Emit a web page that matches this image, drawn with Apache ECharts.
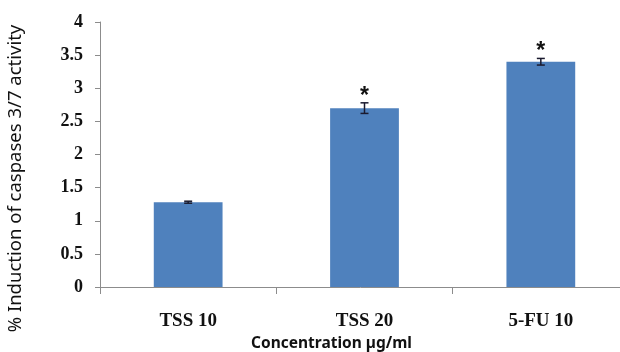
<!DOCTYPE html>
<html>
<head>
<meta charset="utf-8">
<script src="https://cdn.jsdelivr.net/npm/echarts@6/dist/echarts.min.js"></script>
<style>html,body{margin:0;padding:0;background:#fff}#c{width:620px;height:352px}</style>
</head>
<body>
<div id="c"></div>
<script>
var categories = ['TSS 10', 'TSS 20', '5-FU 10'];
var values = [1.28, 2.70, 3.40];
var errors = [0.015, 0.08, 0.05];
var marks = ['', '*', '*'];
var yTicks = [0, 0.5, 1, 1.5, 2, 2.5, 3, 3.5, 4];

var chart = echarts.init(document.getElementById('c'));
var errData = values.map(function (v, i) { return [i, v - errors[i], v + errors[i], marks[i]]; });

chart.setOption({
  animation: false,
  grid: { left: 100, top: 22, width: 529, bottom: 65, containLabel: false, outerBoundsMode: 'none' },
  xAxis: {
    type: 'category',
    data: categories,
    boundaryGap: true,
    name: 'Concentration \u00b5g/ml',
    nameLocation: 'middle',
    nameGap: 49,
    nameTextStyle: { fontFamily: 'Noto Sans', fontSize: 15.5, fontWeight: 'bold', color: '#111', padding: [0, 66, 0, 0] },
    axisLine: { lineStyle: { color: '#8c8c8c', width: 1 } },
    axisTick: { show: true, length: 7, alignWithLabel: false, lineStyle: { color: '#8c8c8c' } },
    axisLabel: { fontFamily: 'Liberation Serif', fontWeight: 'bold', fontSize: 19, color: '#111', margin: 25 }
  },
  yAxis: {
    type: 'value',
    min: 0, max: 4, interval: 0.5,
    name: '% Induction of caspases 3/7 activity',
    nameLocation: 'middle',
    nameGap: 75,
    nameTextStyle: { fontFamily: 'Noto Sans', fontSize: 18.5, color: '#111', padding: [0, 48, 0, 0] },
    axisLine: { show: true, lineStyle: { color: '#8c8c8c', width: 1 } },
    axisTick: { show: true, length: 5, lineStyle: { color: '#8c8c8c' } },
    splitLine: { show: false },
    axisLabel: {
      fontFamily: 'Liberation Serif', fontWeight: 'bold', fontSize: 18, color: '#111', margin: 17,
      formatter: function (v) { return yTicks.indexOf(v) >= 0 ? String(v) : ''; }
    }
  },
  series: [
    {
      type: 'bar',
      data: values,
      barWidth: '39%',
      itemStyle: { color: '#4f81bd' }
    },
    {
      type: 'custom',
      data: errData,
      z: 10,
      renderItem: function (params, api) {
        var x = api.value(0);
        var lo = api.coord([x, api.value(1)]);
        var hi = api.coord([x, api.value(2)]);
        var hw = 4;
        var st = { stroke: '#1a1a2e', lineWidth: 1.5 };
        var children = [
          { type: 'line', shape: { x1: lo[0], y1: lo[1], x2: hi[0], y2: hi[1] }, style: st },
          { type: 'line', shape: { x1: lo[0] - hw, y1: lo[1], x2: lo[0] + hw, y2: lo[1] }, style: st },
          { type: 'line', shape: { x1: hi[0] - hw, y1: hi[1], x2: hi[0] + hw, y2: hi[1] }, style: st }
        ];
        var m = marks[params.dataIndex];
        if (m) {
          children.push({
            type: 'text',
            style: { text: m, x: hi[0], y: hi[1] + 5, align: 'center', verticalAlign: 'bottom',
                     font: 'bold 23px "Liberation Sans"', fill: '#111' }
          });
        }
        return { type: 'group', children: children };
      }
    }
  ]
});
</script>
</body>
</html>
